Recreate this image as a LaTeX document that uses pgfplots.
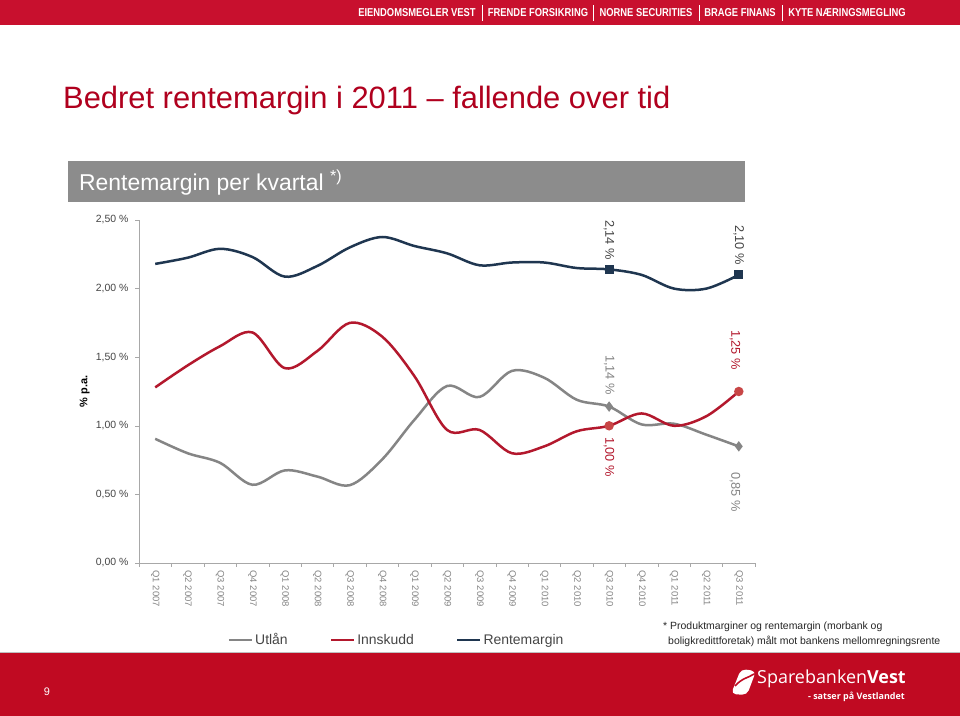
\documentclass[border=0pt]{standalone}
\usepackage{fontspec}
\setmainfont{Liberation Sans}
\newfontfamily\logofont{Open Sans}
\usepackage{pgfplots}
\pgfplotsset{compat=1.18}
\definecolor{bannerred}{HTML}{C8102E}
\definecolor{bandred}{HTML}{C00A22}
\definecolor{titlered}{HTML}{B0001E}
\definecolor{boxgray}{HTML}{8C8C8C}
\definecolor{navy}{HTML}{1F3650}
\definecolor{innred}{HTML}{B3182D}
\definecolor{utgray}{HTML}{858585}
\definecolor{axgray}{HTML}{A8A8A8}
\definecolor{ticktext}{HTML}{454545}
\begin{document}
\begin{tikzpicture}[x=1bp,y=1bp]
\path[use as bounding box] (0,0) rectangle (960,716);
\fill[white] (0,0) rectangle (960,716);
% top banner
\fill[bannerred] (0,691) rectangle (960,716);
\begin{scope}[every node/.style={text=white, font=\bfseries\fontsize{11.5}{12}\selectfont, inner sep=0}]
\node at (417,703) {\scalebox{0.82}[1]{EIENDOMSMEGLER VEST}};
\node at (538,703) {\scalebox{0.82}[1]{FRENDE FORSIKRING}};
\node at (646,703) {\scalebox{0.82}[1]{NORNE SECURITIES}};
\node at (740,703) {\scalebox{0.82}[1]{BRAGE FINANS}};
\node at (847,703) {\scalebox{0.82}[1]{KYTE NÆRINGSMEGLING}};
\end{scope}
\foreach \sx in {482,593,699,782}{\draw[white, line width=0.5bp] (\sx,695) -- (\sx,711);}
% title
\node[anchor=base west, text=titlered, font=\fontsize{31}{36}\selectfont, inner sep=0] at (63,607) {Bedret rentemargin i 2011 – fallende over tid};
% gray box
\fill[boxgray] (68,514) rectangle (745,555);
\node[anchor=base west, text=white, font=\fontsize{23}{26}\selectfont, inner sep=0] at (79,525) {Rentemargin per kvartal \textsuperscript{*)}};
% chart
\begin{axis}[
  at={(139bp,153bp)}, anchor=south west,
  scale only axis, width=616bp, height=343bp,
  xmin=-0.5, xmax=18.5, ymin=0, ymax=2.5,
  clip=false,
  axis x line*=bottom, axis y line*=left,
  axis line style={axgray, line width=0.8bp},
  tick align=outside,
  major tick length=4bp, minor tick length=4bp,
  xtick={0,...,18},
  xticklabels={Q1 2007,Q2 2007,Q3 2007,Q4 2007,Q1 2008,Q2 2008,Q3 2008,Q4 2008,Q1 2009,Q2 2009,Q3 2009,Q4 2009,Q1 2010,Q2 2010,Q3 2010,Q4 2010,Q1 2011,Q2 2011,Q3 2011},
  major x tick style={draw=none},
  minor xtick={-0.5,0.5,...,18.5},
  minor x tick style={draw=axgray},
  ytick={0,0.5,1,1.5,2,2.5},
  yticklabels={{0,00 \%},{0,50 \%},{1,00 \%},{1,50 \%},{2,00 \%},{2,50 \%}},
  y tick style={draw=axgray},
  yticklabel style={font=\fontsize{10.5}{12}\selectfont, text=ticktext, xshift=-3bp},
  xticklabel style={rotate=-90, anchor=west, font=\fontsize{9.5}{11}\selectfont, text=utgray},
  ylabel={\% p.a.},
  ylabel style={at={(axis description cs:-0.088,0.5)}, anchor=center, font=\bfseries\fontsize{11}{12}\selectfont},
  legend columns=3,
  legend style={at={(axis description cs:0.418,-0.2245)}, anchor=center, draw=none, fill=none,
    font=\fontsize{14}{16}\selectfont, text=ticktext,
    /tikz/every even column/.append style={column sep=40bp}},
  legend image code/.code={\draw[#1, line width=2.6bp] (0bp,0bp) -- (23bp,0bp);},
  every axis plot/.append style={line width=2.5bp, smooth, tension=0.55},
]
\addplot[utgray, no marks] coordinates {(0,0.905)(1,0.80)(2,0.73)(3,0.57)(4,0.675)(5,0.63)(6,0.567)(7,0.755)(8,1.045)(9,1.29)(10,1.21)(11,1.40)(12,1.35)(13,1.19)(14,1.14)(15,1.01)(16,1.015)(17,0.935)(18,0.85)};
\addlegendentry{Utlån}
\addplot[innred, no marks] coordinates {(0,1.28)(1,1.44)(2,1.58)(3,1.68)(4,1.42)(5,1.545)(6,1.75)(7,1.65)(8,1.36)(9,0.97)(10,0.97)(11,0.80)(12,0.85)(13,0.96)(14,1.00)(15,1.09)(16,1.00)(17,1.07)(18,1.25)};
\addlegendentry{Innskudd}
\addplot[navy, no marks] coordinates {(0,2.18)(1,2.225)(2,2.29)(3,2.23)(4,2.087)(5,2.165)(6,2.30)(7,2.376)(8,2.31)(9,2.257)(10,2.17)(11,2.19)(12,2.19)(13,2.15)(14,2.14)(15,2.10)(16,2.00)(17,2.00)(18,2.10)};
\addlegendentry{Rentemargin}
\addplot[only marks, mark=square*, mark size=3.2bp, navy, forget plot] coordinates {(14,2.14)(18,2.10)};
\addplot[only marks, mark=*, mark size=3.4bp, color={rgb,255:red,200;green,70;blue,70}, forget plot] coordinates {(14,1.00)(18,1.25)};
\addplot[only marks, mark=diamond*, mark size=3.2bp, utgray, forget plot] coordinates {(14,1.14)(18,0.85)};
% data labels
\node[rotate=-90, anchor=east, inner sep=0, font=\fontsize{12.8}{14}\selectfont, text=ticktext] at (axis cs:14,2.208) {2,14 \%};
\node[rotate=-90, anchor=east, inner sep=0, font=\fontsize{12.8}{14}\selectfont, text=ticktext] at (axis cs:18,2.172) {2,10 \%};
\node[rotate=-90, anchor=east, inner sep=0, font=\fontsize{12.8}{14}\selectfont, text=utgray] at (axis cs:14,1.224) {1,14 \%};
\node[rotate=-90, anchor=west, inner sep=0, font=\fontsize{12.8}{14}\selectfont, text=innred] at (axis cs:14,0.918) {1,00 \%};
\node[rotate=-90, anchor=east, inner sep=0, font=\fontsize{12.8}{14}\selectfont, text=innred] at (axis cs:17.88,1.407) {1,25 \%};
\node[rotate=-90, anchor=west, inner sep=0, font=\fontsize{12.8}{14}\selectfont, text=utgray] at (axis cs:17.88,0.663) {0,85 \%};
\end{axis}
% footnote
\node[anchor=base west, inner sep=0, font=\fontsize{10.5}{12}\selectfont, text=black!85] at (663,86) {* Produktmarginer og rentemargin (morbank og};
\node[anchor=base west, inner sep=0, font=\fontsize{10.5}{12}\selectfont, text=black!85] at (668,71) {boligkredittforetak) målt mot bankens mellomregningsrente};
% bottom band
\fill[bandred] (0,0) rectangle (960,64);
\draw[black!25, line width=0.6bp] (0,64) -- (960,64);
\node[text=white, font=\fontsize{11}{12}\selectfont] at (47,24) {9};
\fill[white, rounded corners=5bp] (731,22) -- (741,47) -- (756,45) -- (747,21) -- cycle;
\draw[bandred, line width=1.6bp] (735,30) .. controls (742,38) and (748,38) .. (754,42);
\node[anchor=base west, inner sep=0, text=white, font=\logofont\fontsize{18}{20}\selectfont] at (757,32) {Sparebanken\textbf{Vest}};
\node[anchor=base east, inner sep=0, text=white, font=\logofont\bfseries\fontsize{9}{10}\selectfont] at (905,16) {- satser på Vestlandet};
\end{tikzpicture}
\end{document}
